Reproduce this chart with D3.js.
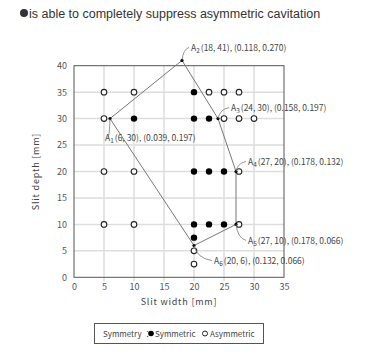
<!DOCTYPE html>
<html><head><meta charset="utf-8">
<script src="https://cdn.jsdelivr.net/npm/d3@7"></script>
<style>body{margin:0;background:#fff;}svg{display:block;}</style>
</head><body>
<script>
const titleText = "is able to completely suppress asymmetric cavitation";
const xTicks = [0,5,10,15,20,25,30,35];
const yTicks = [0,5,10,15,20,25,30,35,40];
const symmetricPts = [[20,35],[10,30],[20,30],[22.5,30],[20,20],[22.5,20],[25,20],[20,10],[22.5,10],[25,10],[20,7.5]];
const asymmetricPts = [[5,35],[10,35],[22.5,35],[25,35],[27.5,35],[5,30],[25,30],[27.5,30],[30,30],[5,20],[10,20],[27.5,20],[5,10],[10,10],[27.5,10],[20,5],[20,2.5]];
const apexNames = ["1","2","3","4","5","6"];
const apexX = [6,18,24,27,27,20];
const apexY = [30,41,30,20,10,6];
const apexText = ["(6, 30), (0.039, 0.197)","(18, 41), (0.118, 0.270)","(24, 30), (0.158, 0.197)","(27, 20), (0.178, 0.132)","(27, 10), (0.178, 0.066)","(20, 6), (0.132, 0.066)"];
// label offsets in px (layout)
const labOff = [[-3,19],[8,-13],[12,-11],[11,-10],[11,16],[19,15]];

const W=365,H=354;
const svg=d3.select("body").append("svg").attr("width",W).attr("height",H);
const m={l:74,r:284,t:65.7,b:277.3};
const x=d3.scaleLinear().domain([0,35]).range([m.l,m.r]);
const y=d3.scaleLinear().domain([0,40]).range([m.b,m.t]);
const font="'Noto Sans CJK JP','DejaVu Sans',sans-serif";

// title
svg.append("circle").attr("cx",24).attr("cy",13).attr("r",4).attr("fill","#333");
svg.append("text").attr("x",29).attr("y",17.5).text(titleText)
  .attr("font-family","Arial,'Liberation Sans',sans-serif").attr("font-size",12.5).attr("fill","#333");

// grid
svg.append("g").selectAll("line").data(xTicks.slice(1,-1)).join("line")
  .attr("x1",d=>x(d)).attr("x2",d=>x(d)).attr("y1",m.t).attr("y2",m.b+4)
  .attr("stroke","#ddd").attr("stroke-width",1.5);
svg.append("g").selectAll("line").data(yTicks.slice(1,-1)).join("line")
  .attr("y1",d=>y(d)).attr("y2",d=>y(d)).attr("x1",m.l).attr("x2",m.r)
  .attr("stroke","#ddd").attr("stroke-width",1.5);
svg.append("rect").attr("x",m.l).attr("y",m.t).attr("width",m.r-m.l).attr("height",m.b-m.t)
  .attr("fill","none").attr("stroke","#555").attr("stroke-width",1);

// axes labels via d3 axes
const xAxis=svg.append("g").attr("transform",`translate(0,${m.b})`).call(d3.axisBottom(x).tickValues(xTicks).tickSize(0).tickPadding(6));
const yAxis=svg.append("g").attr("transform",`translate(${m.l},0)`).call(d3.axisLeft(y).tickValues(yTicks).tickSize(0).tickPadding(7));
[xAxis,yAxis].forEach(a=>{a.select(".domain").remove();a.selectAll("text").attr("font-family",font).attr("font-size",9).attr("fill","#555");});

svg.append("text").attr("x",(m.l+m.r)/2).attr("y",305).attr("text-anchor","middle")
  .attr("font-family",font).attr("font-size",9).attr("fill","#444").attr("letter-spacing",0.8).text("Slit width [mm]");
svg.append("text").attr("transform",`translate(39,${(m.t+m.b)/2}) rotate(-90)`).attr("text-anchor","middle")
  .attr("font-family",font).attr("font-size",9).attr("fill","#444").attr("letter-spacing",0.8).text("Slit depth [mm]");

// polygon
const poly=apexX.map((d,i)=>[x(d),y(apexY[i])]);
svg.append("path").attr("d",d3.line()(poly)+"Z").attr("fill","none").attr("stroke","#777").attr("stroke-width",1);

// points
svg.append("g").selectAll("circle").data(symmetricPts).join("circle")
  .attr("cx",d=>x(d[0])).attr("cy",d=>y(d[1])).attr("r",3.2).attr("fill","#000");
svg.append("g").selectAll("circle").data(asymmetricPts).join("circle")
  .attr("cx",d=>x(d[0])).attr("cy",d=>y(d[1])).attr("r",2.8).attr("fill","#fff").attr("stroke","#222").attr("stroke-width",1.1);

// apex dots, leaders, labels
apexX.forEach((v,i)=>{
  const px=x(v),py=y(apexY[i]);
  svg.append("circle").attr("cx",px).attr("cy",py).attr("r",1.6).attr("fill","#000");
  const [dx,dy]=labOff[i];
  const ex=px+dx, ey=py+dy;
  const c1x=px+dx*0.15, c1y=py+dy*0.85;
  svg.append("path").attr("d",`M${px},${py} Q${c1x},${c1y} ${ex-(dx>0?1:-1)*1},${ey}`)
    .attr("fill","none").attr("stroke","#777").attr("stroke-width",0.8);
  const t=svg.append("text").attr("x",ex+(dx>0?1:-2)).attr("y",ey+3.5)
    .attr("font-family",font).attr("font-size",8.5).attr("fill","#444");
  t.append("tspan").text("A");
  t.append("tspan").attr("font-size",6.5).attr("dy",2).text(apexNames[i]);
  t.append("tspan").attr("dy",-2).attr("dx",1).text(apexText[i]);
});

// legend
svg.append("rect").attr("x",94.5).attr("y",323.5).attr("width",169).attr("height",20)
  .attr("fill","#fff").attr("stroke","#555").attr("stroke-width",1);
const lg=svg.append("g").attr("font-family",font).attr("font-size",8).attr("fill","#444");
lg.append("text").attr("x",103).attr("y",336.5).text("Symmetry ：");
lg.append("circle").attr("cx",151).attr("cy",333.5).attr("r",2.8).attr("fill","#000");
lg.append("text").attr("x",155).attr("y",336.5).text("Symmetric");
lg.append("circle").attr("cx",205).attr("cy",333.5).attr("r",2.5).attr("fill","#fff").attr("stroke","#222").attr("stroke-width",1);
lg.append("text").attr("x",210).attr("y",336.5).text("Asymmetric");
</script>
</body></html>
